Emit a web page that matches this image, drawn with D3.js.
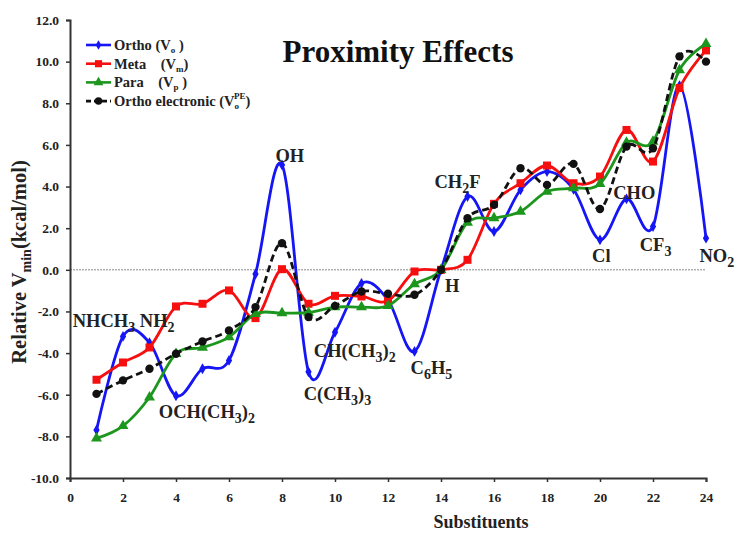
<!DOCTYPE html>
<html>
<head>
<meta charset="utf-8">
<script src="https://cdn.jsdelivr.net/npm/d3@7"></script>
<style>
  body { margin:0; background:#fff; }
  svg text { font-family: "Liberation Serif", "Times New Roman", serif; font-weight:bold; }
</style>
</head>
<body>
<div id="chart"></div>
<script>
// substituent index on the x axis
var substituents = [1,2,3,4,5,6,7,8,9,10,11,12,13,14,15,16,17,18,19,20,21,22,23,24];

var orthoValues     = [-7.7,-3.2,-3.5,-6.05,-4.75,-4.35,-0.2,5.04,-4.9,-3.0,-0.65,-1.45,-3.92,0,3.52,1.84,3.84,4.72,3.87,1.44,3.41,2.08,8.85,1.52];
var metaValues      = [-5.28,-4.45,-3.73,-1.76,-1.63,-0.99,-2.32,0.03,-1.63,-1.25,-1.28,-1.49,-0.08,0,0.48,3.17,4.16,5.01,4.16,4.48,6.72,5.2,8.73,10.54];
var paraValues      = [-8.1,-7.5,-6.12,-4.03,-3.73,-3.23,-2.11,-2.08,-2.05,-1.79,-1.79,-1.73,-0.69,0,2.27,2.48,2.8,3.76,3.92,4.13,6.11,6.16,9.6,10.85];
var orthoElecValues = [-5.96,-5.31,-4.75,-4.03,-3.44,-2.91,-1.79,1.28,-2.27,-1.73,-1.04,-1.15,-1.2,0,2.48,3.12,4.88,4.08,5.09,2.92,5.92,5.84,10.25,10.0];

var yTicks = [-10,-8,-6,-4,-2,0,2,4,6,8,10,12];
var xTicks = [0,2,4,6,8,10,12,14,16,18,20,22,24];

// point labels: text pieces (sub = subscript) and anchor in data units (left, baseline)
var pointLabels = [
  {parts:[["OH",""]], x:7.75, y:5.2},
  {parts:[["NHCH",""],["3","sub"],[" NH",""],["2","sub"]], x:0.1, y:-2.75},
  {parts:[["OCH(CH",""],["3","sub"],[")",""],["2","sub"]], x:3.35, y:-7.1},
  {parts:[["CH(CH",""],["3","sub"],[")",""],["2","sub"]], x:9.2, y:-4.2},
  {parts:[["C(CH",""],["3","sub"],[")",""],["3","sub"]], x:8.82, y:-6.25},
  {parts:[["C",""],["6","sub"],["H",""],["5","sub"]], x:12.85, y:-5.0},
  {parts:[["CH",""],["2","sub"],["F",""]], x:13.75, y:3.95},
  {parts:[["H",""]], x:14.15, y:-1.05},
  {parts:[["Cl",""]], x:19.7, y:0.38},
  {parts:[["CHO",""]], x:20.5, y:3.42},
  {parts:[["CF",""],["3","sub"]], x:21.5, y:0.92},
  {parts:[["NO",""],["2","sub"]], x:23.75, y:0.38}
];

var W = 737, H = 534;
var margin = {left:70, right:31, top:20, bottom:56};

var svg = d3.select("#chart").append("svg")
  .attr("width", W).attr("height", H);

var x = d3.scaleLinear().domain([0,24]).range([margin.left, W-margin.right]);
var y = d3.scaleLinear().domain([-10,12]).range([H-margin.bottom, margin.top]);

// zero reference line
svg.append("line")
  .attr("x1", x(0)).attr("x2", x(24))
  .attr("y1", y(0)).attr("y2", y(0))
  .attr("stroke", "#888").attr("stroke-width", 1)
  .attr("stroke-dasharray", "2,1");

// axes
var yAxis = d3.axisLeft(y).tickValues(yTicks).tickSize(4).tickSizeOuter(4)
  .tickFormat(function(d){ return d.toFixed(1); });
var xAxis = d3.axisBottom(x).tickValues(xTicks).tickSize(4).tickSizeOuter(4)
  .tickFormat(function(d){ return d; });

var gy = svg.append("g").attr("transform", "translate("+x(0)+",0)").call(yAxis);
var gx = svg.append("g").attr("transform", "translate(0,"+y(-10)+")").call(xAxis);
[gx, gy].forEach(function(g){
  g.select(".domain").attr("stroke", "#333").attr("stroke-width", 2);
  g.selectAll(".tick line").attr("stroke", "#333").attr("stroke-width", 1.5);
  g.selectAll(".tick text").attr("fill", "#222")
    .style("font-family", "'Liberation Serif', serif")
    .style("font-weight", "bold").style("font-size", "13.5px");
});
gy.selectAll(".tick text").attr("x", -11);
gx.selectAll(".tick text").attr("y", 14);

// axis titles
svg.append("text")
  .attr("x", 481).attr("y", 528)
  .attr("text-anchor", "middle")
  .style("font-size", "18px").attr("fill", "#222")
  .text("Substituents");

var yt = svg.append("text")
  .attr("transform", "translate(26,262) rotate(-90)")
  .attr("text-anchor", "middle")
  .style("font-size", "20.5px").attr("fill", "#222");
yt.append("tspan").text("Relative V");
yt.append("tspan").attr("dy", 5).style("font-size", "14px").text("min");
yt.append("tspan").attr("dy", -5).text("(kcal/mol)");

// title
svg.append("text")
  .attr("x", 398).attr("y", 62)
  .attr("text-anchor", "middle")
  .style("font-size", "31px").attr("fill", "#111")
  .text("Proximity Effects");

// series
var series = [
  {name:"ortho", values:orthoValues, color:"#1515f5", symbol:d3.symbolDiamond, size:34, dash:null},
  {name:"meta", values:metaValues, color:"#f50f0f", symbol:d3.symbolSquare, size:64, dash:null},
  {name:"para", values:paraValues, color:"#1c961c", symbol:d3.symbolTriangle, size:52, dash:null},
  {name:"orthoElec", values:orthoElecValues, color:"#111", symbol:d3.symbolCircle, size:55, dash:"7,4"}
];

var line = d3.line()
  .x(function(d){ return x(d[0]); })
  .y(function(d){ return y(d[1]); })
  .curve(d3.curveCardinal.tension(0));

series.forEach(function(s){
  var pts = substituents.map(function(k, i){ return [k, s.values[i]]; });
  svg.append("path")
    .datum(pts)
    .attr("d", line)
    .attr("fill", "none")
    .attr("stroke", s.color)
    .attr("stroke-width", 2.8)
    .attr("stroke-dasharray", s.dash);
  svg.selectAll(".m-"+s.name)
    .data(pts)
    .enter().append("path")
    .attr("class", "m-"+s.name)
    .attr("transform", function(d){ return "translate("+x(d[0])+","+y(d[1])+")"; })
    .attr("d", d3.symbol().type(s.symbol).size(s.size))
    .attr("fill", s.color);
});

// point labels
pointLabels.forEach(function(l){
  var t = svg.append("text")
    .attr("x", x(l.x)).attr("y", y(l.y))
    .style("font-size", "18.5px").attr("fill", "#222");
  var shifted = false;
  l.parts.forEach(function(p){
    var ts = t.append("tspan").text(p[0]);
    if (p[1] === "sub") {
      ts.attr("dy", shifted ? 0 : 5).style("font-size", "14px");
      shifted = true;
    } else {
      if (shifted) ts.attr("dy", -5);
      shifted = false;
    }
  });
});

// legend
var legendItems = [
  {s:series[0], parts:[["Ortho (V",""],["o","sub"],[" )","back"]]},
  {s:series[1], parts:[["Meta    (V",""],["m","sub"],[")","back"]]},
  {s:series[2], parts:[["Para    (V",""],["p","sub"],[" )","back"]]},
  {s:series[3], parts:[["Ortho electronic (V",""],["o","sub"],["PE","sup"],[")","back2"]]}
];
var legend = svg.append("g").attr("transform", "translate(86,45)");
legendItems.forEach(function(it, i){
  var g = legend.append("g").attr("transform", "translate(0,"+(i*18.7)+")");
  g.append("line").attr("x1", 0).attr("x2", 25).attr("y1", 0).attr("y2", 0)
    .attr("stroke", it.s.color).attr("stroke-width", 2.6)
    .attr("stroke-dasharray", it.s.dash ? "5,3" : null);
  g.append("path").attr("transform", "translate(12.5,0)")
    .attr("d", d3.symbol().type(it.s.symbol).size(it.s.size*0.8))
    .attr("fill", it.s.color);
  var t = g.append("text").attr("x", 28).attr("y", 5)
    .style("font-size", "14.5px").style("white-space", "pre").attr("fill", "#222");
  it.parts.forEach(function(p){
    var ts = t.append("tspan").text(p[0]);
    if (p[1] === "sub") ts.attr("dy", 3).style("font-size", "9px");
    if (p[1] === "sup") ts.attr("dx", -5).attr("dy", -10).style("font-size", "9px");
    if (p[1] === "back") ts.attr("dy", -3);
    if (p[1] === "back2") ts.attr("dy", 7);
  });
});
</script>
</body>
</html>
